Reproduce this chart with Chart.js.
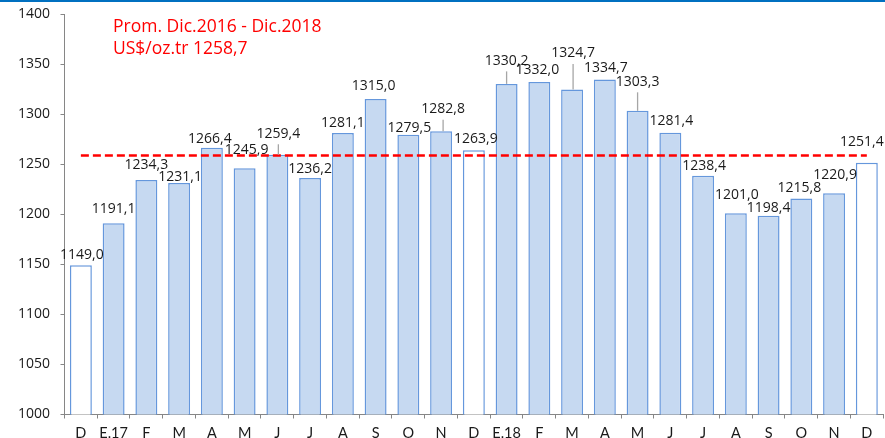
<!DOCTYPE html>
<html>
<head>
<meta charset="utf-8">
<title>Precio del oro</title>
<script src="https://cdn.jsdelivr.net/npm/chart.js@4.4.0/dist/chart.umd.min.js"></script>
<style>
  html, body { margin: 0; padding: 0; background: #ffffff; }
  canvas { display: block; }
</style>
</head>
<body>
<canvas id="goldChart" width="885" height="438"></canvas>
<script>
// monthly gold price, Dec.2016 - Dec.2018 (US$/oz.tr)
const months = ['D', 'E.17', 'F', 'M', 'A', 'M', 'J', 'J', 'A', 'S', 'O', 'N',
                'D', 'E.18', 'F', 'M', 'A', 'M', 'J', 'J', 'A', 'S', 'O', 'N', 'D'];
const prices = [1149.0, 1191.1, 1234.3, 1231.1, 1266.4, 1245.9, 1259.4, 1236.2, 1281.1, 1315.0, 1279.5, 1282.8,
                1263.9, 1330.2, 1332.0, 1324.7, 1334.7, 1303.3, 1281.4, 1238.4, 1201.0, 1198.4, 1215.8, 1220.9, 1251.4];
const avgPrice = 1258.7;
const noteLines = ['Prom. Dic.2016 - Dic.2018', 'US$/oz.tr 1258,7'];
const yMin = 1000, yMax = 1400, yStep = 50;

// where each value label sits, relative to the top of its bar (px)
const labelOffsets = [
    [1, -11], [0, -15], [0, -16], [1, -7], [-2, -10], [2, -19], [1, -22], [0, -10], [0, -11], [-2, -14], [1, -8], [2, -23],
    [2, -12], [0, -24], [-2, -13], [1, -37], [1, -12], [0, -30], [1, -13], [1, -11], [1, -19], [0, -9], [-2, -11], [1, -19], [-5, -22]
];
const leaderBars = [6, 11, 13, 15, 17];

const axisGray = '#868686';
const textColor = '#1a1a1a';
const fontName = "'Open Sans', 'DejaVu Sans', sans-serif";

function fmt(v) {
    return v.toFixed(1).replace('.', ',');
}

const decorations = {
    id: 'decorations',
    beforeDraw(chart) {
        const ctx = chart.ctx;
        ctx.save();
        ctx.fillStyle = '#0070c0';
        ctx.fillRect(0, 0, chart.width, 2);
        ctx.restore();
    },
    afterDatasetsDraw(chart) {
        const ctx = chart.ctx;
        const xs = chart.scales.x, ys = chart.scales.y;

        // average line
        const yAvg = ys.getPixelForValue(avgPrice);
        ctx.save();
        ctx.strokeStyle = '#ff0000';
        ctx.lineWidth = 2.5;
        ctx.setLineDash([8, 4]);
        ctx.beginPath();
        ctx.moveTo(xs.getPixelForValue(0), yAvg);
        ctx.lineTo(xs.getPixelForValue(prices.length - 1), yAvg);
        ctx.stroke();
        ctx.restore();

        // value labels
        const bars = chart.getDatasetMeta(0).data;
        ctx.save();
        ctx.font = '14px ' + fontName;
        ctx.textAlign = 'center';
        ctx.textBaseline = 'alphabetic';
        bars.forEach((bar, i) => {
            const lx = bar.x + labelOffsets[i][0];
            const ly = bar.y + labelOffsets[i][1];
            if (leaderBars.includes(i)) {
                ctx.strokeStyle = '#a6a6a6';
                ctx.lineWidth = 1.3;
                ctx.beginPath();
                ctx.moveTo(lx, ly + 11.5);
                ctx.lineTo(lx, bar.y);
                ctx.stroke();
            }
            ctx.fillStyle = textColor;
            ctx.fillText(fmt(prices[i]), lx, ly + 5);
        });
        ctx.restore();

        // note text
        ctx.save();
        ctx.font = '17.5px ' + fontName;
        ctx.fillStyle = '#ff0000';
        ctx.textAlign = 'left';
        ctx.textBaseline = 'alphabetic';
        ctx.fillText(noteLines[0], 113, 32.3);
        ctx.fillText(noteLines[1], 113, 54);
        ctx.restore();
    }
};

const ctxGold = document.getElementById('goldChart').getContext('2d');
new Chart(ctxGold, {
    type: 'bar',
    data: {
        labels: months,
        datasets: [{
            data: prices,
            backgroundColor: months.map(m => m === 'D' ? '#ffffff' : '#c6d9f1'),
            borderColor: '#6597dc',
            borderWidth: 1.5,
            barPercentage: 0.67,
            categoryPercentage: 1.0
        }]
    },
    options: {
        responsive: false,
        animation: false,
        layout: { padding: { left: 0, right: 1.8, top: 14, bottom: 0 } },
        plugins: {
            legend: { display: false },
            tooltip: { enabled: false }
        },
        scales: {
            x: {
                grid: { offset: true, drawOnChartArea: false, tickLength: 4, color: axisGray },
                border: { color: axisGray },
                ticks: { font: { family: "Lato, " + fontName, size: 14.5 }, color: textColor, padding: 6, maxRotation: 0, autoSkip: false },
                afterFit: s => { s.height = 23.5; s.paddingLeft = 0; s.paddingRight = 0; }
            },
            y: {
                min: yMin,
                max: yMax,
                grid: { drawOnChartArea: false, tickLength: 4, color: axisGray },
                border: { color: axisGray },
                ticks: {
                    stepSize: yStep,
                    font: { family: fontName, size: 14 },
                    color: textColor,
                    padding: 10.5,
                    callback: v => String(v)
                },
                afterFit: s => { s.width = 64.5; s.paddingTop = 0; s.paddingBottom = 0; }
            }
        }
    },
    plugins: [decorations]
});
</script>
</body>
</html>
